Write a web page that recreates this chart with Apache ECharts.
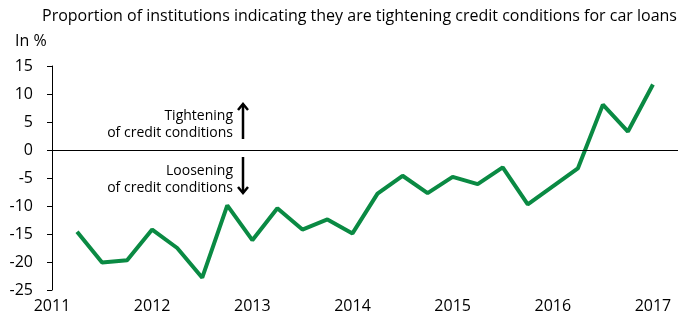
<!DOCTYPE html>
<html>
<head>
    <meta charset="utf-8">
    <title>Car loans</title>
    <script src="https://cdn.jsdelivr.net/npm/echarts@6/dist/echarts.min.js"></script>
</head>
<body style="margin:0;background:#fff;">
<style type="text/css">
#chart{width: 689px; height: 314px;}
</style>
    <div id="chart"></div>
    <script type="text/javascript">
        // quarterly survey points (year + quarter fraction)
        var quarters = [2011.25, 2011.5, 2011.75, 2012, 2012.25, 2012.5, 2012.75, 2013,
                        2013.25, 2013.5, 2013.75, 2014, 2014.25, 2014.5, 2014.75, 2015,
                        2015.25, 2015.5, 2015.75, 2016, 2016.25, 2016.5, 2016.75, 2017];
        var values = [-14.6, -20.1, -19.7, -14.2, -17.5, -22.8, -9.9, -16.1,
                      -10.4, -14.2, -12.4, -14.9, -7.8, -4.6, -7.7, -4.8,
                      -6.1, -3.1, -9.7, -6.5, -3.3, 8.1, 3.3, 11.7];
        var yearTicks = [2011, 2012, 2013, 2014, 2015, 2016, 2017];

        var font = 'Open Sans';
        var data = [];
        for (var i = 0; i < quarters.length; i++) {
            data.push([quarters[i], values[i]]);
        }

        var noteFont = '14px "Open Sans"';
        var chart = echarts.init(document.getElementById('chart'));
        chart.setOption({
            animation: false,
            textStyle: {fontFamily: font},
            title: [{
                text: 'Proportion of institutions indicating they are tightening credit conditions for car loans',
                left: 37, top: 3,
                textStyle: {fontSize: 16, fontWeight: 'normal', color: '#000', fontFamily: font}
            }, {
                text: 'In %',
                left: 10, top: 28,
                textStyle: {fontSize: 16, fontWeight: 'normal', color: '#000', fontFamily: font}
            }],
            grid: {left: 52, right: 11, top: 66, bottom: 24},
            xAxis: {
                type: 'value',
                min: 2011, max: 2017.25, interval: 1,
                axisLine: {show: false},
                axisTick: {show: false},
                splitLine: {show: false},
                axisLabel: {
                    fontSize: 16, color: '#000', margin: 8,
                    formatter: function (v) { return yearTicks.indexOf(v) >= 0 ? String(v) : ''; }
                }
            },
            yAxis: {
                type: 'value',
                min: -25, max: 15, interval: 5,
                axisLine: {show: true, lineStyle: {color: '#000', width: 1}},
                axisTick: {show: true, length: 5, lineStyle: {color: '#000'}},
                splitLine: {show: false},
                axisLabel: {fontSize: 16, color: '#000', margin: 19}
            },
            series: [{
                type: 'line',
                data: data,
                symbol: 'none',
                lineStyle: {color: '#0a8a43', width: 4},
                markLine: {
                    silent: true,
                    symbol: 'none',
                    label: {show: false},
                    lineStyle: {color: '#000', width: 1, type: 'solid'},
                    data: [{yAxis: 0}]
                }
            }],
            graphic: [
                {type: 'text', right: 689 - 233, top: 109, style: {text: 'Tightening', font: noteFont, fill: '#000', textAlign: 'right'}},
                {type: 'text', right: 689 - 233, top: 126, style: {text: 'of credit conditions', font: noteFont, fill: '#000', textAlign: 'right'}},
                {type: 'text', right: 689 - 233, top: 164, style: {text: 'Loosening', font: noteFont, fill: '#000', textAlign: 'right'}},
                {type: 'text', right: 689 - 233, top: 181, style: {text: 'of credit conditions', font: noteFont, fill: '#000', textAlign: 'right'}},
                // up arrow
                {type: 'line', shape: {x1: 243, y1: 139, x2: 243, y2: 104}, style: {stroke: '#000', lineWidth: 2.5}},
                {type: 'polyline', shape: {points: [[238, 110], [243, 104], [248, 110]]}, style: {stroke: '#000', lineWidth: 2.5, fill: null}},
                // down arrow
                {type: 'line', shape: {x1: 243, y1: 157, x2: 243, y2: 193}, style: {stroke: '#000', lineWidth: 2.5}},
                {type: 'polyline', shape: {points: [[238, 187], [243, 193], [248, 187]]}, style: {stroke: '#000', lineWidth: 2.5, fill: null}}
            ]
        });
    </script>
</body>
</html>
